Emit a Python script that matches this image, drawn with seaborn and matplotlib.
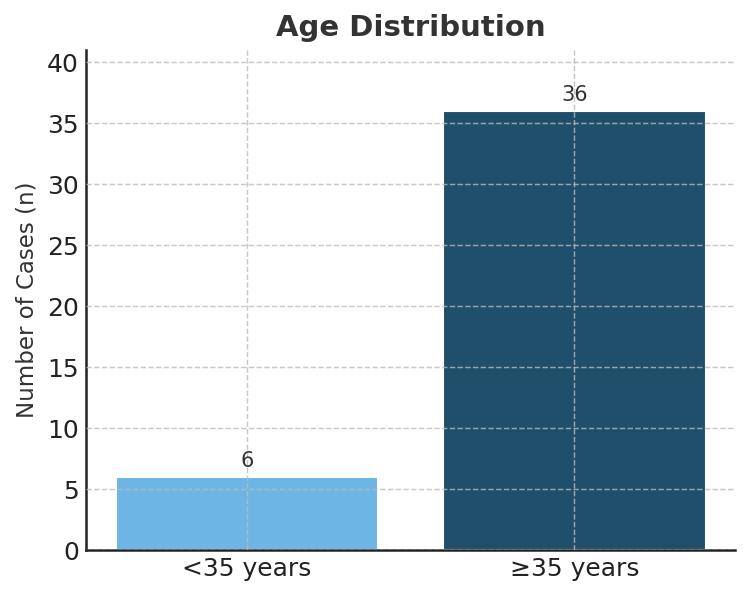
import pandas as pd
import seaborn as sns
import matplotlib.pyplot as plt

# Data
age_groups = ['<35 years', '≥35 years']
cases = [6, 36]
bar_colors = ['#6CB5E5', '#204F6B']

df = pd.DataFrame({'age_group': age_groups, 'cases': cases})

sns.set_style('white')
plt.rcParams['font.family'] = ['DejaVu Sans']
plt.rcParams['text.color'] = '#333333'

fig, ax = plt.subplots(figsize=(5, 3.987), dpi=150)
fig.subplots_adjust(left=0.115, right=0.98, top=0.916, bottom=0.08)

sns.barplot(data=df, x='age_group', y='cases', hue='age_group',
            palette=bar_colors, legend=False, width=0.8, saturation=1, ax=ax)

# Label di atas bar
for i, v in enumerate(cases):
    ax.text(i, v + 0.5, str(v), ha='center', va='bottom', fontsize=10, color='#333333')

ax.set_title('Age Distribution', fontsize=14, fontweight='bold', color='#333333', pad=7)
ax.set_xlabel('')
ax.set_ylabel('Number of Cases (n)', fontsize=11, color='#333333')
ax.set_ylim(0, 41)
ax.set_xlim(-0.49, 1.49)

ax.tick_params(axis='both', labelsize=12, direction='in', length=4, width=1.2, colors='#222222')
ax.grid(True, linestyle='--', color='#bbbbbb', linewidth=0.7, alpha=0.8)
ax.set_axisbelow(False)

sns.despine(ax=ax)
for s in ['left', 'bottom']:
    ax.spines[s].set_color('#222222')
    ax.spines[s].set_linewidth(1.2)

fig.savefig('out.png', dpi=150)
